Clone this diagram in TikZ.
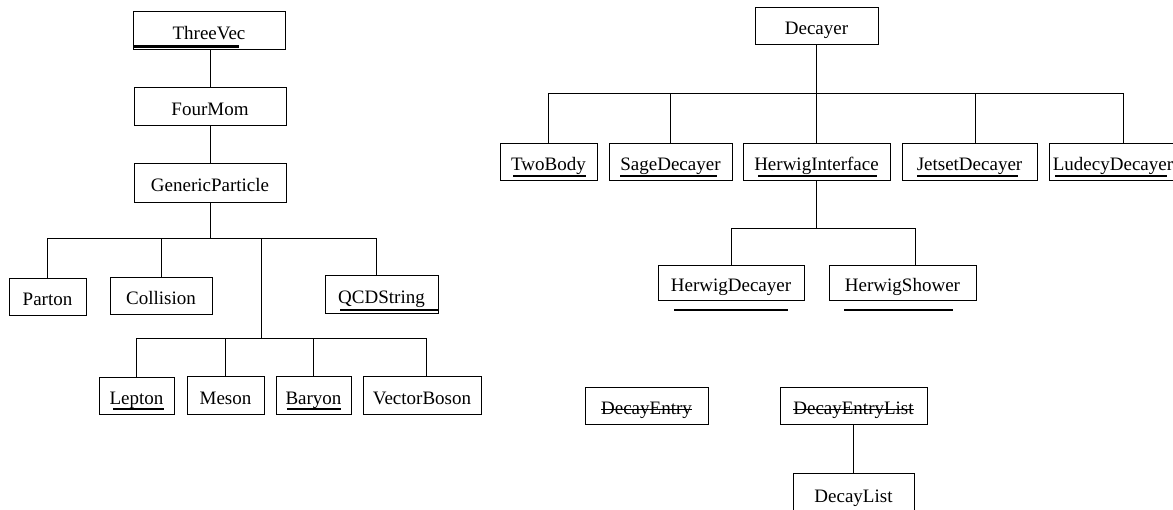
\documentclass[tikz,border=0pt]{standalone}
\usepackage{fontspec}
\setmainfont{Liberation Serif}
\usetikzlibrary{calc}
\newlength\strikelen
\newcommand\mystrike[1]{\settowidth{\strikelen}{#1}\rlap{#1}\rule[0.22em]{\strikelen}{1.2pt}}
\begin{document}
\begin{tikzpicture}[x=1pt,y=-1pt,
  cls/.style={draw, line width=1pt, inner sep=0pt, font=\fontsize{19}{22}\selectfont,
              text height=20pt, text depth=2pt},
  link/.style={line width=1pt},
  uline/.style={line width=2.5pt}]
\useasboundingbox (0,0) rectangle (1173,509);
% ---------- left tree ----------
\node[cls, minimum width=152pt, minimum height=38pt] (tv) at (209,30) {ThreeVec};
\node[cls, minimum width=152pt, minimum height=38pt] (fm) at (210,106) {FourMom};
\node[cls, minimum width=152pt, minimum height=39pt] (gp) at (210,182.5) {GenericParticle};
\node[cls, minimum width=77pt, minimum height=37pt] (parton) at (47.5,296.5) {Parton};
\node[cls, minimum width=102pt, minimum height=37pt] (coll) at (161,295.5) {Collision};
\node[cls, minimum width=113pt, minimum height=38pt] (qcd) at (381.5,294) {QCDString};
\node[cls, minimum width=75pt, minimum height=37pt] (lep) at (136.5,395.5) {Lepton};
\node[cls, minimum width=77pt, minimum height=38pt] (mes) at (225.5,395) {Meson};
\node[cls, minimum width=75pt, minimum height=38pt] (bar) at (313.5,395) {Baryon};
\node[cls, minimum width=118pt, minimum height=38pt] (vb) at (422,395) {VectorBoson};
\draw[link] (tv.south -| fm.north) -- (fm.north);
\draw[link] (fm.south) -- (gp.north);
\coordinate (b1) at (210,238);
\coordinate (j1) at (261,238);
\coordinate (b2) at (261,338);
\draw[link] (gp.south) -- (b1);
\draw[link] (parton.north) |- (b1);
\draw[link] (coll.north) |- (b1);
\draw[link] ([xshift=-5.5pt]qcd.north) |- (b1);
\draw[link] (j1) -- (b2);
\draw[link] (lep.north) |- (b2);
\draw[link] (mes.north) |- (b2);
\draw[link] (bar.north) |- (b2);
\draw[link] ([xshift=4pt]vb.north) |- (b2);
% underlines
\draw[uline] (133,46.5) -- (239,46.5);
\draw[uline] (340,310) -- (438,310);
\draw[uline] (113,409) -- (164,409);
\draw[uline] (287,409) -- (341,409);
% ---------- right tree ----------
\node[cls, minimum width=123pt, minimum height=37pt] (dec) at (816.5,25.5) {Decayer};
\node[cls, minimum width=97pt, minimum height=37pt] (two) at (548.5,161.5) {TwoBody};
\node[cls, minimum width=123pt, minimum height=37pt] (sage) at (670.5,161.5) {SageDecayer};
\node[cls, minimum width=147pt, minimum height=37pt] (hi) at (816.5,161.5) {HerwigInterface};
\node[cls, minimum width=135pt, minimum height=37pt] (jet) at (969.5,161.5) {JetsetDecayer};
\node[cls, minimum width=128pt, minimum height=37pt] (lud) at (1113,161.5) {LudecyDecayer};
\node[cls, minimum width=146pt, minimum height=35pt] (hd) at (731,282.5) {HerwigDecayer};
\node[cls, minimum width=147pt, minimum height=35pt] (hs) at (902.5,282.5) {HerwigShower};
\coordinate (b3) at (816.5,93);
\coordinate (b4) at (816.5,228);
\draw[link] (dec.south) -- (hi.north);
\draw[link] (two.north) |- (b3);
\draw[link] (sage.north) |- (b3);
\draw[link] ([xshift=5.5pt]jet.north) |- (b3);
\draw[link] ([xshift=10pt]lud.north) |- (b3);
\draw[link] (hi.south) -- (b4);
\draw[link] (hd.north) |- (b4);
\draw[link] ([xshift=12.5pt]hs.north) |- (b4);
% underlines
\draw[uline] (513,176) -- (586,176);
\draw[uline] (620,176) -- (717,176);
\draw[uline] (758,176) -- (877,176);
\draw[uline] (917,176) -- (1018,176);
\draw[uline] (1055,176) -- (1167,176);
\draw[uline] (674,310) -- (788,310);
\draw[uline] (844,310) -- (953,310);
% ---------- bottom ----------
\node[cls, minimum width=123pt, minimum height=37pt] (de) at (646.5,405.5) {\mystrike{DecayEntry}};
\node[cls, minimum width=147pt, minimum height=37pt] (del) at (853.5,405.5) {\mystrike{DecayEntryList}};
\node[cls, minimum width=121pt, minimum height=40pt] (dl) at (853.5,493) {DecayList};
\draw[link] (del.south) -- (dl.north);
\end{tikzpicture}
\end{document}
